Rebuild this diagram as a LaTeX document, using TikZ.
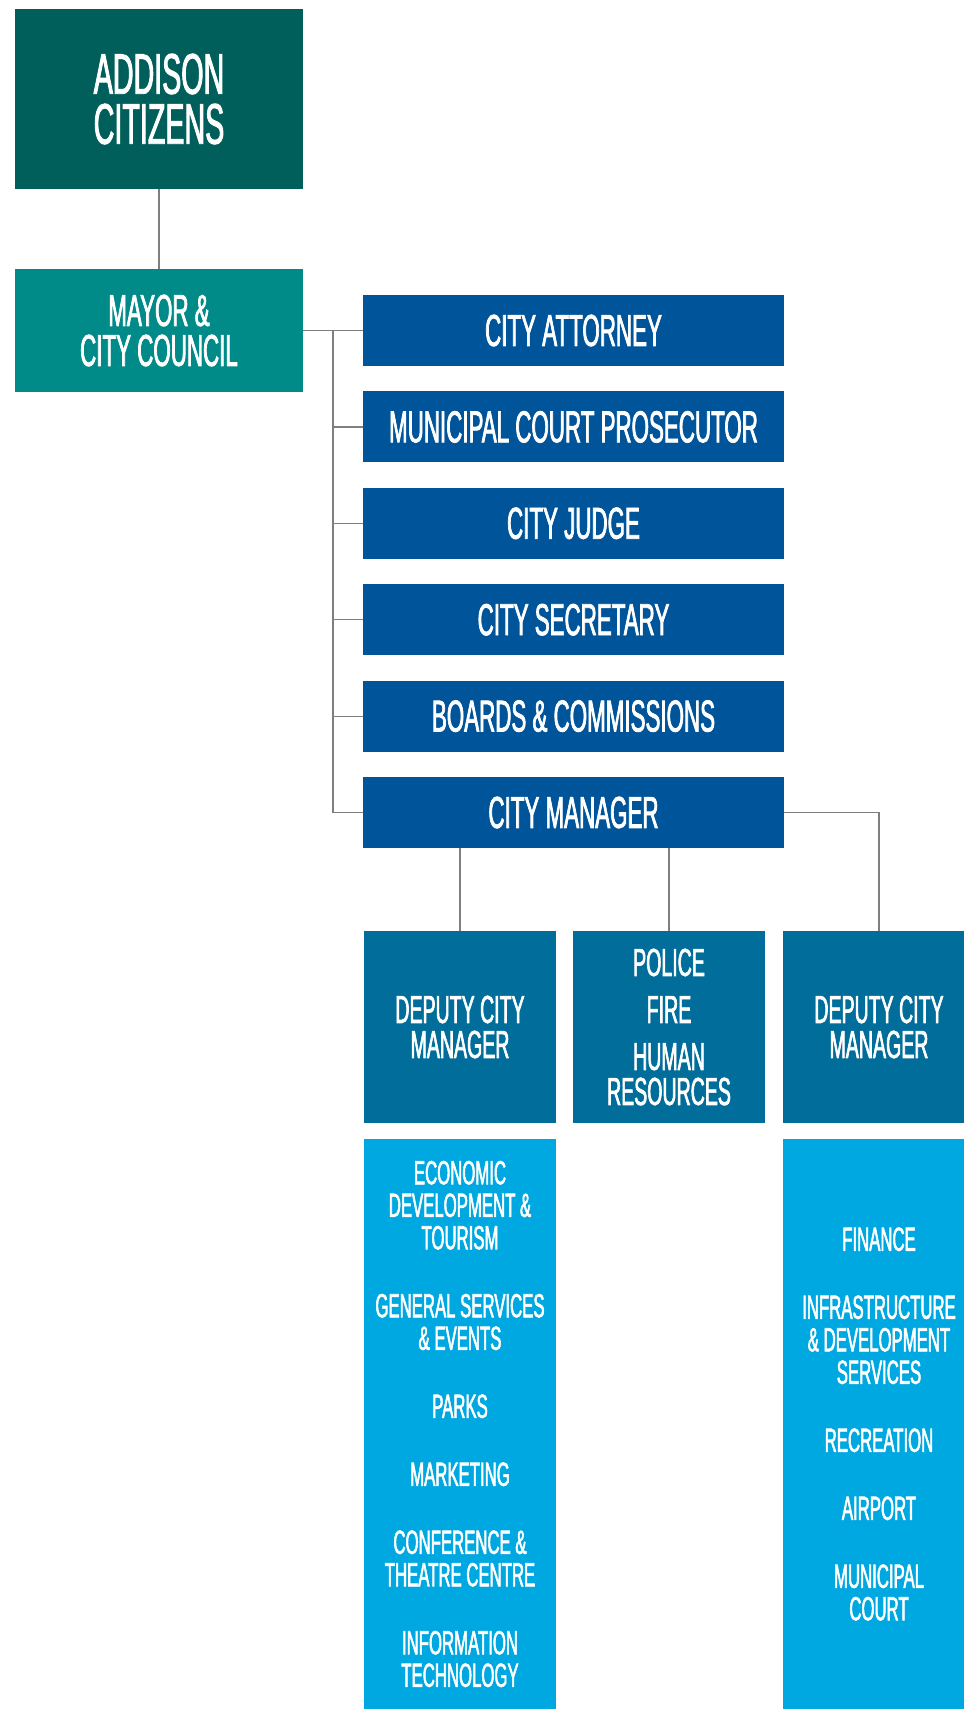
\documentclass[tikz,border=0pt]{standalone}
\usepackage{fontspec}
\setmainfont{Liberation Sans}[FakeStretch=0.5, FakeBold=1.6]
\usetikzlibrary{positioning}

\definecolor{citizenteal}{HTML}{005F5B}
\definecolor{councilteal}{HTML}{008A88}
\definecolor{officeblue}{HTML}{00549A}
\definecolor{deputyblue}{HTML}{006D9A}
\definecolor{deptblue}{HTML}{00A8E1}
\definecolor{linegray}{HTML}{7F7F7F}

\begin{document}
\begin{tikzpicture}[x=1pt, y=-1pt]


\tikzstyle{box} = [
    rectangle, inner sep=0pt, text=white, align=center]
\tikzstyle{office} = [box, fill=officeblue, minimum width=421, minimum height=71, font=\fontsize{44.7}{40}\selectfont]
\tikzstyle{deputy} = [box, fill=deputyblue, minimum width=192, minimum height=192, font=\fontsize{39.1}{35}\selectfont]
\tikzstyle{dept} = [box, fill=deptblue, minimum width=192, minimum height=570, font=\fontsize{33.5}{32.5}\selectfont]
\tikzstyle{line} = [draw=linegray, line width=1.2pt]

\useasboundingbox (0,0) rectangle (964,1709);

\node[box, fill=citizenteal, minimum width=288, minimum height=180, font=\fontsize{57.3}{50}\selectfont] at (159,99) (citizens) {ADDISON\\CITIZENS};

\node[box, fill=councilteal, minimum width=288, minimum height=123, font=\fontsize{44.7}{40}\selectfont] at (159,330.5) (council) {MAYOR \&\\CITY COUNCIL};


\node[office] at (573.5,330.5) (attorney) {CITY ATTORNEY};

\node[office] at (573.5,426.9) (prosecutor) {MUNICIPAL COURT PROSECUTOR};

\node[office] at (573.5,523.3) (judge) {CITY JUDGE};

\node[office] at (573.5,619.7) (secretary) {CITY SECRETARY};

\node[office] at (573.5,716.1) (boards) {BOARDS \& COMMISSIONS};

\node[office] at (573.5,812.5) (manager) {CITY MANAGER};


\node[deputy] at (460,1027) (deputyleft) {DEPUTY CITY\\MANAGER};

\node[deputy] at (669,1027) (services) {POLICE\\[12pt]FIRE\\[12pt]HUMAN\\RESOURCES};

\node[deputy] at (879,1027) (deputyright) {DEPUTY CITY\\MANAGER};


\node[dept] at (460,1424) (deptsleft) {ECONOMIC\\DEVELOPMENT \&\\TOURISM\\[35.5pt]GENERAL SERVICES\\\& EVENTS\\[35.5pt]PARKS\\[35.5pt]MARKETING\\[35.5pt]CONFERENCE \&\\THEATRE CENTRE\\[35.5pt]INFORMATION\\TECHNOLOGY};

\node[dept] at (879,1424) (deptsright) {FINANCE\\[35.5pt]INFRASTRUCTURE\\\& DEVELOPMENT\\SERVICES\\[35.5pt]RECREATION\\[35.5pt]AIRPORT\\[35.5pt]MUNICIPAL\\COURT};


\coordinate (bus) at (333,330.5);

\draw[line] (citizens) -- (council);
\draw[line] (council) -- (attorney);
\draw[line] (bus) |- (manager.west);
\draw[line] (bus |- prosecutor.west) -- (prosecutor.west);
\draw[line] (bus |- judge.west) -- (judge.west);
\draw[line] (bus |- secretary.west) -- (secretary.west);
\draw[line] (bus |- boards.west) -- (boards.west);

\draw[line] (manager.east) -| (deputyright.north);
\draw[line] (deputyleft.north) -- (deputyleft.north |- manager.south);
\draw[line] (services.north) -- (services.north |- manager.south);


\end{tikzpicture}
\end{document}
